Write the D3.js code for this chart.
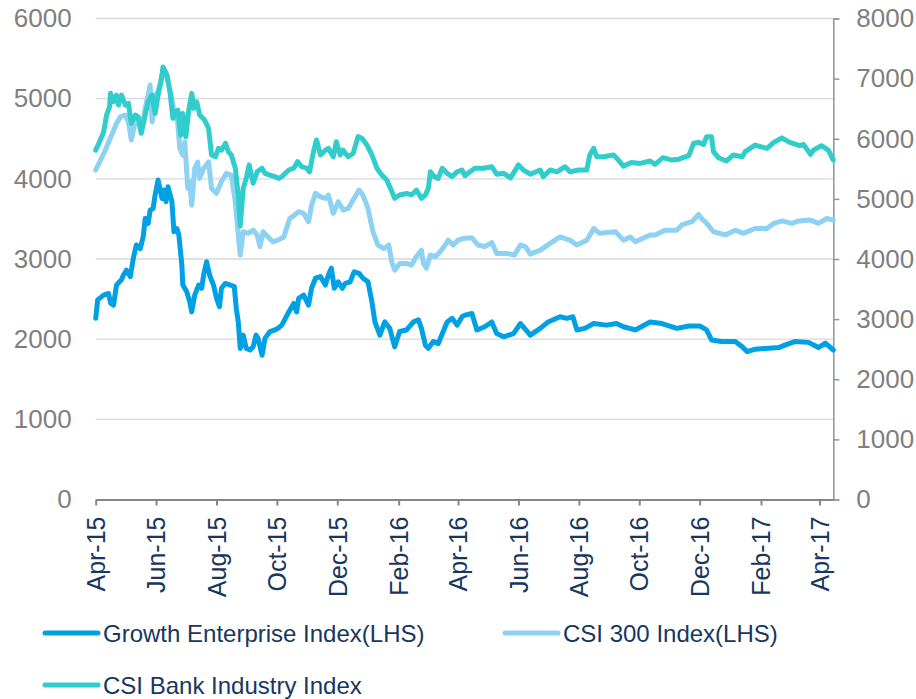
<!DOCTYPE html>
<html>
<head>
<meta charset="utf-8">
<script src="https://cdn.jsdelivr.net/npm/d3@7"></script>
<style>
  body { margin: 0; background: #fff; }
  svg { display: block; font-family: "Liberation Sans", Arial, sans-serif; }
</style>
</head>
<body>
<div id="wrapper"></div>
<script>
// values (date, index level)
const growthSeries = [
  ["2015-04-01",2260],["2015-04-03",2490],["2015-04-09",2550],["2015-04-14",2570],["2015-04-16",2450],["2015-04-19",2425],
  ["2015-04-22",2675],["2015-04-27",2740],["2015-04-29",2800],["2015-05-02",2860],["2015-05-06",2780],["2015-05-09",3010],
  ["2015-05-12",3175],["2015-05-16",3130],["2015-05-19",3280],["2015-05-21",3505],["2015-05-24",3445],["2015-05-26",3610],
  ["2015-05-29",3630],["2015-05-31",3800],["2015-06-03",3985],["2015-06-07",3755],["2015-06-09",3860],["2015-06-11",3715],
  ["2015-06-13",3900],["2015-06-17",3715],["2015-06-19",3340],["2015-06-22",3380],["2015-06-24",3300],["2015-06-27",2925],
  ["2015-06-28",2675],["2015-07-02",2590],["2015-07-05",2465],["2015-07-07",2340],["2015-07-10",2550],["2015-07-14",2675],
  ["2015-07-17",2635],["2015-07-19",2800],["2015-07-22",2965],["2015-07-25",2800],["2015-07-29",2675],["2015-08-01",2510],
  ["2015-08-04",2405],["2015-08-06",2635],["2015-08-10",2695],["2015-08-15",2675],["2015-08-19",2655],["2015-08-21",2385],
  ["2015-08-23",2215],["2015-08-25",1885],["2015-08-28",2050],["2015-08-31",1885],["2015-09-04",1865],["2015-09-07",1905],
  ["2015-09-10",2050],["2015-09-12",2010],["2015-09-16",1800],["2015-09-19",2010],["2015-09-24",2095],["2015-09-29",2115],
  ["2015-10-02",2135],["2015-10-06",2175],["2015-10-13",2340],["2015-10-18",2445],["2015-10-21",2340],["2015-10-23",2510],
  ["2015-10-28",2550],["2015-11-02",2425],["2015-11-05",2635],["2015-11-09",2760],["2015-11-14",2780],["2015-11-19",2675],
  ["2015-11-22",2800],["2015-11-25",2885],["2015-11-28",2635],["2015-12-02",2715],["2015-12-06",2635],["2015-12-09",2695],
  ["2015-12-14",2715],["2015-12-18",2840],["2015-12-23",2820],["2015-12-27",2760],["2016-01-01",2715],["2016-01-05",2465],
  ["2016-01-08",2215],["2016-01-13",2050],["2016-01-18",2215],["2016-01-23",2135],["2016-01-28",1905],["2016-02-02",2095],
  ["2016-02-09",2115],["2016-02-16",2215],["2016-02-21",2240],["2016-02-24",2135],["2016-02-28",1925],["2016-03-02",1885],
  ["2016-03-07",1970],["2016-03-12",1945],["2016-03-17",2095],["2016-03-21",2215],["2016-03-26",2260],["2016-03-31",2175],
  ["2016-04-05",2280],["2016-04-08",2300],["2016-04-15",2320],["2016-04-20",2115],["2016-04-28",2155],["2016-05-05",2215],
  ["2016-05-10",2070],["2016-05-17",2030],["2016-05-27",2070],["2016-06-03",2195],["2016-06-13",2050],["2016-06-23",2135],
  ["2016-07-01",2215],["2016-07-13",2280],["2016-07-20",2260],["2016-07-26",2280],["2016-07-30",2115],["2016-08-07",2135],
  ["2016-08-16",2195],["2016-08-29",2175],["2016-09-08",2195],["2016-09-15",2155],["2016-09-27",2115],["2016-10-12",2215],
  ["2016-10-24",2195],["2016-11-08",2135],["2016-11-20",2165],["2016-12-01",2165],["2016-12-08",2115],["2016-12-13",1990],
  ["2016-12-23",1970],["2017-01-06",1970],["2017-01-13",1905],["2017-01-18",1845],["2017-01-26",1875],["2017-02-05",1885],
  ["2017-02-19",1895],["2017-02-25",1925],["2017-03-07",1970],["2017-03-21",1960],["2017-03-31",1895],["2017-04-07",1950],
  ["2017-04-15",1865]
];

const csi300Series = [
  ["2015-04-01",4110],["2015-04-05",4210],["2015-04-10",4335],["2015-04-14",4460],["2015-04-17",4545],["2015-04-22",4690],
  ["2015-04-26",4775],["2015-05-01",4795],["2015-05-04",4710],["2015-05-07",4485],["2015-05-11",4710],["2015-05-14",4755],
  ["2015-05-17",4585],["2015-05-21",4880],["2015-05-24",5045],["2015-05-26",5170],["2015-05-28",4710],["2015-05-31",5045],
  ["2015-06-03",5085],["2015-06-07",5295],["2015-06-10",5335],["2015-06-13",5210],["2015-06-17",5005],["2015-06-20",4755],
  ["2015-06-22",4815],["2015-06-25",4380],["2015-06-28",4295],["2015-06-30",4460],["2015-07-03",3880],["2015-07-05",3965],
  ["2015-07-07",3670],["2015-07-10",4130],["2015-07-13",4210],["2015-07-15",4005],["2015-07-19",4130],["2015-07-24",4210],
  ["2015-07-27",3880],["2015-08-01",3820],["2015-08-06",3965],["2015-08-11",4070],["2015-08-16",4045],["2015-08-20",3715],
  ["2015-08-23",3300],["2015-08-25",3050],["2015-08-28",3340],["2015-09-02",3320],["2015-09-07",3360],["2015-09-11",3300],
  ["2015-09-14",3155],["2015-09-17",3340],["2015-09-22",3275],["2015-09-27",3215],["2015-10-02",3235],["2015-10-08",3275],
  ["2015-10-14",3505],["2015-10-19",3550],["2015-10-23",3590],["2015-10-28",3570],["2015-11-02",3465],["2015-11-05",3670],
  ["2015-11-09",3820],["2015-11-14",3775],["2015-11-19",3755],["2015-11-22",3795],["2015-11-27",3570],["2015-12-02",3715],
  ["2015-12-07",3610],["2015-12-12",3630],["2015-12-17",3735],["2015-12-23",3860],["2015-12-27",3795],["2016-01-01",3630],
  ["2016-01-06",3340],["2016-01-11",3175],["2016-01-17",3130],["2016-01-22",3175],["2016-01-25",2965],["2016-01-28",2860],
  ["2016-02-02",2945],["2016-02-09",2945],["2016-02-14",2925],["2016-02-19",3030],["2016-02-24",3110],["2016-02-26",2945],
  ["2016-02-29",2885],["2016-03-04",3050],["2016-03-09",3030],["2016-03-14",3090],["2016-03-19",3175],["2016-03-22",3235],
  ["2016-03-27",3175],["2016-04-01",3235],["2016-04-06",3255],["2016-04-15",3265],["2016-04-21",3175],["2016-04-28",3155],
  ["2016-05-05",3205],["2016-05-10",3070],["2016-05-20",3070],["2016-05-28",3050],["2016-06-03",3175],["2016-06-08",3155],
  ["2016-06-13",3060],["2016-06-23",3110],["2016-07-03",3195],["2016-07-13",3275],["2016-07-23",3235],["2016-07-30",3175],
  ["2016-08-09",3235],["2016-08-16",3380],["2016-08-22",3320],["2016-09-07",3340],["2016-09-15",3235],["2016-09-22",3275],
  ["2016-09-27",3215],["2016-10-12",3300],["2016-10-17",3300],["2016-10-27",3360],["2016-11-08",3360],["2016-11-13",3425],
  ["2016-11-23",3465],["2016-11-30",3555],["2016-12-03",3505],["2016-12-08",3445],["2016-12-15",3340],["2016-12-27",3300],
  ["2017-01-06",3360],["2017-01-14",3320],["2017-01-26",3380],["2017-02-07",3380],["2017-02-14",3445],["2017-02-22",3475],
  ["2017-03-04",3445],["2017-03-11",3475],["2017-03-23",3485],["2017-03-31",3445],["2017-04-08",3505],["2017-04-15",3485]
];

// right-hand axis
const bankSeries = [
  ["2015-04-01",5810],["2015-04-05",5950],["2015-04-09",6115],["2015-04-12",6395],["2015-04-15",6530],["2015-04-16",6755],
  ["2015-04-19",6615],["2015-04-22",6725],["2015-04-24",6560],["2015-04-27",6725],["2015-05-01",6560],["2015-05-04",6590],
  ["2015-05-07",6255],["2015-05-11",6395],["2015-05-14",6365],["2015-05-17",6090],["2015-05-21",6395],["2015-05-24",6615],
  ["2015-05-28",6725],["2015-05-31",6420],["2015-06-03",6725],["2015-06-06",6950],["2015-06-08",7195],["2015-06-12",7060],
  ["2015-06-15",6780],["2015-06-18",6340],["2015-06-21",6450],["2015-06-23",6475],["2015-06-26",6060],["2015-06-28",6420],
  ["2015-07-01",6035],["2015-07-04",6475],["2015-07-07",6755],["2015-07-09",6505],["2015-07-12",6615],["2015-07-15",6395],
  ["2015-07-20",6310],["2015-07-24",6175],["2015-07-27",5730],["2015-07-31",5700],["2015-08-03",5840],["2015-08-06",5810],
  ["2015-08-10",5925],["2015-08-13",5785],["2015-08-16",5730],["2015-08-20",5510],["2015-08-23",5065],["2015-08-25",4550],
  ["2015-08-28",5175],["2015-08-31",5340],["2015-09-03",5565],["2015-09-07",5260],["2015-09-11",5450],["2015-09-16",5510],
  ["2015-09-19",5425],["2015-09-24",5395],["2015-09-29",5370],["2015-10-03",5340],["2015-10-06",5370],["2015-10-13",5480],
  ["2015-10-18",5510],["2015-10-22",5620],["2015-10-26",5535],["2015-10-31",5510],["2015-11-03",5450],["2015-11-07",5785],
  ["2015-11-10",5980],["2015-11-14",5730],["2015-11-19",5810],["2015-11-22",5840],["2015-11-27",5700],["2015-11-30",5950],
  ["2015-12-04",5730],["2015-12-07",5810],["2015-12-12",5700],["2015-12-17",5755],["2015-12-22",6035],["2015-12-26",6005],
  ["2015-12-31",5895],["2016-01-05",5730],["2016-01-10",5510],["2016-01-15",5395],["2016-01-20",5315],["2016-01-23",5200],
  ["2016-01-28",5010],["2016-02-02",5065],["2016-02-09",5090],["2016-02-14",5065],["2016-02-19",5145],["2016-02-24",5010],
  ["2016-02-28",5065],["2016-03-02",5175],["2016-03-04",5450],["2016-03-08",5370],["2016-03-12",5340],["2016-03-16",5510],
  ["2016-03-21",5425],["2016-03-26",5370],["2016-03-31",5450],["2016-04-05",5480],["2016-04-08",5385],["2016-04-13",5450],
  ["2016-04-18",5510],["2016-04-27",5510],["2016-05-05",5535],["2016-05-10",5410],["2016-05-17",5425],["2016-05-24",5350],
  ["2016-06-01",5565],["2016-06-06",5480],["2016-06-13",5410],["2016-06-23",5480],["2016-06-26",5370],["2016-07-03",5480],
  ["2016-07-10",5450],["2016-07-18",5535],["2016-07-23",5450],["2016-08-01",5480],["2016-08-09",5480],["2016-08-12",5730],
  ["2016-08-16",5840],["2016-08-19",5700],["2016-08-26",5700],["2016-09-05",5730],["2016-09-10",5645],["2016-09-15",5545],
  ["2016-09-23",5605],["2016-10-02",5590],["2016-10-12",5630],["2016-10-17",5575],["2016-10-25",5685],["2016-11-03",5645],
  ["2016-11-10",5660],["2016-11-20",5720],["2016-11-25",5925],["2016-11-30",5940],["2016-12-05",5905],["2016-12-08",6035],
  ["2016-12-13",6035],["2016-12-15",5785],["2016-12-20",5685],["2016-12-28",5630],["2017-01-04",5730],["2017-01-13",5700],
  ["2017-01-16",5785],["2017-01-26",5895],["2017-02-07",5840],["2017-02-14",5940],["2017-02-22",6015],["2017-03-02",5940],
  ["2017-03-12",5885],["2017-03-16",5905],["2017-03-23",5740],["2017-03-26",5810],["2017-04-03",5885],["2017-04-10",5810],
  ["2017-04-15",5645]
];

const leftTicks = [0, 1000, 2000, 3000, 4000, 5000, 6000];
const rightTicks = [0, 1000, 2000, 3000, 4000, 5000, 6000, 7000, 8000];
const monthTicks = ["2015-04-01","2015-06-01","2015-08-01","2015-10-01","2015-12-01","2016-02-01",
  "2016-04-01","2016-06-01","2016-08-01","2016-10-01","2016-12-01","2017-02-01","2017-04-01"];
const seriesNames = ["Growth Enterprise Index(LHS)", "CSI 300 Index(LHS)", "CSI Bank Industry Index"];
const seriesColors = ["#00a0e4", "#8dd1f3", "#30cdcc"];

function buildChart() {
  const dimension = {
    width: 916,
    height: 699,
    margin: { top: 18.5, left: 95.7, right: 82.7, bottom: 199.5 }
  };
  dimension.boundedWidth = dimension.width - dimension.margin.left - dimension.margin.right;
  dimension.boundedHeight = dimension.height - dimension.margin.top - dimension.margin.bottom;

  const parseDate = d3.timeParse("%Y-%m-%d");
  const dateAccessor = d => parseDate(d[0]);
  const valueAccessor = d => d[1];

  const svg = d3.select("#wrapper").append("svg")
    .attr("width", dimension.width)
    .attr("height", dimension.height);

  const bounded = svg.append("g")
    .attr("transform", `translate(${dimension.margin.left}, ${dimension.margin.top})`);

  const xScaler = d3.scaleTime()
    .domain([parseDate("2015-04-01"), parseDate("2017-04-15")])
    .range([0, dimension.boundedWidth]);

  const yLeftScaler = d3.scaleLinear()
    .domain([0, 6000])
    .range([dimension.boundedHeight, 0]);

  const yRightScaler = d3.scaleLinear()
    .domain([0, 8000])
    .range([dimension.boundedHeight, 0]);

  // gridlines
  bounded.append("g")
    .selectAll("line")
    .data(leftTicks.filter(t => t > 0))
    .join("line")
    .attr("x1", 0)
    .attr("x2", dimension.boundedWidth)
    .attr("y1", d => yLeftScaler(d))
    .attr("y2", d => yLeftScaler(d))
    .attr("stroke", "#d9d9d9")
    .attr("stroke-width", 1.3);

  // left axis (labels only)
  const leftAxis = bounded.append("g")
    .call(d3.axisLeft(yLeftScaler).tickValues(leftTicks).tickFormat(d3.format("d")).tickSize(0).tickPadding(24));
  leftAxis.select(".domain").remove();
  leftAxis.selectAll("text")
    .attr("font-size", 26)
    .attr("font-family", "'Liberation Sans', Arial, sans-serif")
    .attr("fill", "#7f7f7f");

  // right axis
  const rightAxis = bounded.append("g")
    .attr("transform", `translate(${dimension.boundedWidth}, 0)`)
    .call(d3.axisRight(yRightScaler).tickValues(rightTicks).tickFormat(d3.format("d"))
      .tickSize(6).tickSizeOuter(6).tickPadding(17));
  rightAxis.select(".domain").attr("stroke", "#8497b0").attr("stroke-width", 1.5);
  rightAxis.selectAll(".tick line").attr("stroke", "#8497b0").attr("stroke-width", 1.5);
  rightAxis.selectAll("text")
    .attr("font-size", 26)
    .attr("font-family", "'Liberation Sans', Arial, sans-serif")
    .attr("fill", "#7f7f7f");

  // bottom axis
  const bottomAxis = bounded.append("g")
    .attr("transform", `translate(0, ${dimension.boundedHeight})`)
    .call(d3.axisBottom(xScaler)
      .tickValues(monthTicks.map(parseDate))
      .tickFormat(d3.timeFormat("%b-%y"))
      .tickSize(6)
      .tickSizeOuter(0));
  bottomAxis.select(".domain").attr("stroke", "#868686").attr("stroke-width", 2);
  bottomAxis.selectAll(".tick line").attr("stroke", "#868686").attr("stroke-width", 2);
  bottomAxis.selectAll("text")
    .attr("font-size", 25)
    .attr("font-family", "'Liberation Sans', Arial, sans-serif")
    .attr("fill", "#17375e")
    .attr("text-anchor", "end")
    .attr("x", -17)
    .attr("y", 0)
    .attr("dy", "0.35em")
    .attr("transform", "rotate(-90)");

  // lines
  const lineLeft = d3.line()
    .x(d => xScaler(dateAccessor(d)))
    .y(d => yLeftScaler(valueAccessor(d)));

  const lineRight = d3.line()
    .x(d => xScaler(dateAccessor(d)))
    .y(d => yRightScaler(valueAccessor(d)));

  const seriesList = [
    { data: growthSeries, gen: lineLeft },
    { data: csi300Series, gen: lineLeft },
    { data: bankSeries, gen: lineRight }
  ];

  seriesList.forEach((s, i) => {
    bounded.append("path")
      .attr("d", s.gen(s.data))
      .attr("fill", "none")
      .attr("stroke", seriesColors[i])
      .attr("stroke-width", 5)
      .attr("stroke-linejoin", "round")
      .attr("stroke-linecap", "round");
  });

  // legend
  const legendSpots = [[45, 633], [505, 633], [45, 685]];
  const legend = svg.append("g");
  seriesNames.forEach((name, i) => {
    const [lx, ly] = legendSpots[i];
    legend.append("line")
      .attr("x1", lx).attr("x2", lx + 53)
      .attr("y1", ly).attr("y2", ly)
      .attr("stroke", seriesColors[i])
      .attr("stroke-width", 5)
      .attr("stroke-linecap", "round");
    legend.append("text")
      .attr("x", lx + 58)
      .attr("y", ly)
      .attr("dy", "0.36em")
      .attr("font-size", 24)
      .attr("fill", "#17375e")
      .text(name);
  });
}

buildChart();
</script>
</body>
</html>
